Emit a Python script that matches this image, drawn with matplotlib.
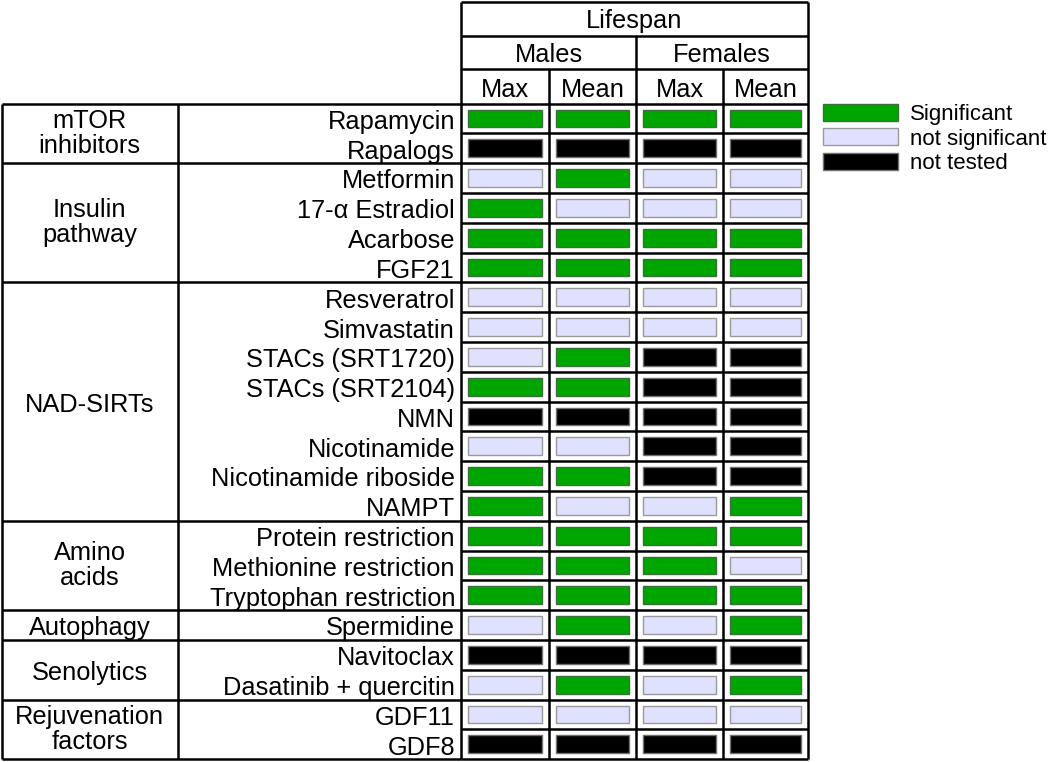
import matplotlib
matplotlib.use("Agg")
import matplotlib.pyplot as plt
from matplotlib.patches import Rectangle

plt.rcParams['font.family'] = ['Liberation Sans', 'DejaVu Sans']

# ---- data ----
groups = ["mTOR\ninhibitors", "Insulin\npathway", "NAD-SIRTs", "Amino\nacids",
          "Autophagy", "Senolytics", "Rejuvenation\nfactors"]
group_sizes = [2, 4, 8, 3, 1, 2, 2]
drugs = ["Rapamycin", "Rapalogs", "Metformin", "17-\u03b1 Estradiol", "Acarbose", "FGF21",
         "Resveratrol", "Simvastatin", "STACs (SRT1720)", "STACs (SRT2104)", "NMN",
         "Nicotinamide", "Nicotinamide riboside", "NAMPT", "Protein restriction",
         "Methionine restriction", "Tryptophan restriction", "Spermidine", "Navitoclax",
         "Dasatinib + quercitin", "GDF11", "GDF8"]
header_top = "Lifespan"
header_sex = ["Males", "Females"]
header_stat = ["Max", "Mean", "Max", "Mean"]
# S = significant, N = not significant, T = not tested
status = [
    "SSSS", "TTTT", "NSNN", "SNNN", "SSSS", "SSSS",
    "NNNN", "NNNN", "NSTT", "SSTT", "TTTT", "NNTT", "SSTT", "SNNS",
    "SSSS", "SSSN", "SSSS", "NSNS", "TTTT", "NSNS", "NNNN", "TTTT",
]
legend_labels = ["Significant", "not significant", "not tested"]
legend_keys = ["S", "N", "T"]

# ---- style ----
colors = {"S": "#00A600", "N": "#E0E0FF", "T": "#000000"}
edges = {"S": "#3a6e3a", "N": "#9a9a9a", "T": "#707070"}
FS = 18.3
FS_LEG = 16
LW = 1.8

# ---- layout (pixel units) ----
W, H = 1050, 762
x_left, x_split, x_data = 1.5, 178, 461
col_edges = [461, 549, 636, 723, 808]
head_y = [2, 35.5, 69, 103.5]
row0, rh = 103.5, 29.8
nrows = len(drugs)
y_bottom = row0 + nrows * rh

fig = plt.figure(figsize=(W / 100, H / 100), dpi=100)
ax = fig.add_axes([0, 0, 1, 1])
ax.set_xlim(0, W)
ax.set_ylim(H, 0)
ax.axis("off")

# cells
pad_x, pad_y = 7, 6
for j in range(4):
    x0 = col_edges[j] + pad_x
    w = col_edges[j + 1] - col_edges[j] - 2 * pad_x
    for i, row in enumerate(status):
        k = row[j]
        ax.add_patch(Rectangle((x0, row0 + i * rh + pad_y), w, rh - 2 * pad_y,
                               facecolor=colors[k], edgecolor=edges[k], lw=1.0, zorder=2))

# horizontal lines
ax.hlines(head_y[:3], col_edges[0], col_edges[-1], color="black", lw=LW, zorder=3)
for i in range(nrows + 1):
    ax.hlines(row0 + i * rh, x_data, col_edges[-1], color="black", lw=LW, zorder=3)
b = 0
ax.hlines(row0, x_left, x_data, color="black", lw=LW, zorder=3)
for g in group_sizes:
    b += g
    ax.hlines(row0 + b * rh, x_left, x_data, color="black", lw=LW, zorder=3)

# vertical lines
ax.vlines([x_left, x_split], row0, y_bottom, color="black", lw=LW, zorder=3)
ax.vlines([col_edges[0], col_edges[-1]], head_y[0], y_bottom, color="black", lw=LW, zorder=3)
ax.vlines(col_edges[2], head_y[1], y_bottom, color="black", lw=LW, zorder=3)
ax.vlines([col_edges[1], col_edges[3]], head_y[2], y_bottom, color="black", lw=LW, zorder=3)

# header text
ax.text((col_edges[0] + col_edges[-1]) / 2, (head_y[0] + head_y[1]) / 2, header_top,
        ha="center", va="center_baseline", fontsize=FS)
for s, lab in enumerate(header_sex):
    ax.text((col_edges[2 * s] + col_edges[2 * s + 2]) / 2, (head_y[1] + head_y[2]) / 2, lab,
            ha="center", va="center_baseline", fontsize=FS)
for j, lab in enumerate(header_stat):
    ax.text((col_edges[j] + col_edges[j + 1]) / 2, (head_y[2] + head_y[3]) / 2 + 1, lab,
            ha="center", va="center_baseline", fontsize=FS)

# drug labels
for i, d in enumerate(drugs):
    ax.text(x_data - 6, row0 + (i + 0.5) * rh + 1, d, ha="right", va="center_baseline",
            fontsize=FS)

# group labels
b = 0
for g, n in zip(groups, group_sizes):
    yc = row0 + (b + n / 2) * rh
    multi = "\n" in g
    ax.text((x_left + x_split) / 2, yc + (0 if multi else 1), g, ha="center",
            va="center" if multi else "center_baseline", fontsize=FS, linespacing=1.05)
    b += n

# legend
leg_x, leg_w, leg_h = 823, 75, 17
leg_y = [112, 136.5, 161]
for lab, k, yc in zip(legend_labels, legend_keys, leg_y):
    ax.add_patch(Rectangle((leg_x, yc - leg_h / 2), leg_w, leg_h,
                           facecolor=colors[k], edgecolor=edges[k], lw=1.0))
    ax.text(leg_x + leg_w + 12, yc, lab, ha="left", va="center_baseline", fontsize=FS_LEG)

fig.savefig("out.png", dpi=100, facecolor="white")
